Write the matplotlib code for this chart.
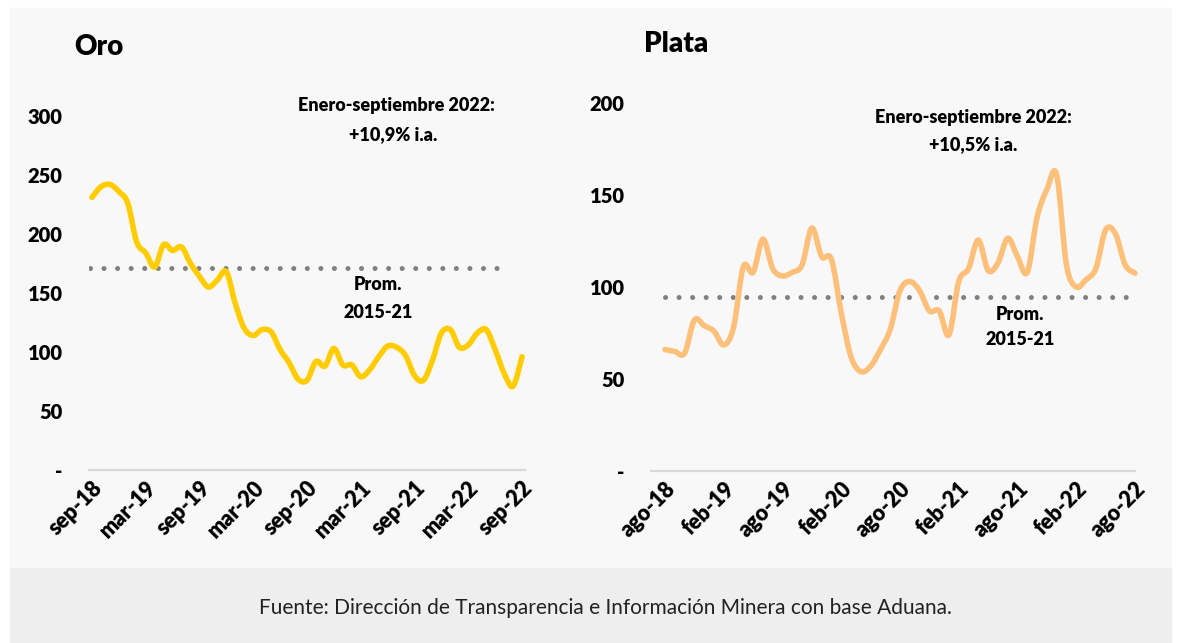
import numpy as np
import matplotlib
matplotlib.use("Agg")
import matplotlib.pyplot as plt
from matplotlib.patches import Rectangle, PathPatch
from matplotlib.path import Path
from matplotlib.transforms import ScaledTranslation

plt.rcParams["font.family"] = ["Lato", "DejaVu Sans"]

# Oro: monthly index, sep-18 .. sep-22
oro_values = [231, 240, 242, 236, 226, 193, 184, 172, 191, 186,
              189, 175, 164, 155, 161, 168, 141, 120, 114, 119,
              117, 102, 91, 77, 76, 92, 88, 103, 89, 89,
              79, 85, 96, 105, 104, 97, 80, 76, 93, 116,
              119, 104, 106, 116, 119, 102, 82, 71, 96]
oro_ticks = ["sep-18", "mar-19", "sep-19", "mar-20", "sep-20",
             "mar-21", "sep-21", "mar-22", "sep-22"]
oro_avg = 171

# Plata: monthly index, ago-18 .. ago-22
plata_values = [66, 65, 64, 82, 79, 76, 68.5, 78, 111, 108,
                126, 110, 106, 108, 112, 132, 116.5, 115, 86, 62,
                54, 57, 66, 77, 98, 103, 98, 87, 87, 74,
                103, 110, 125.5, 109, 113, 126.5, 116.5, 108, 138, 153,
                161, 112, 100, 104, 110, 131, 129, 112, 107.5]
plata_ticks = ["ago-18", "feb-19", "ago-19", "feb-20", "ago-20",
               "feb-21", "ago-21", "feb-22", "ago-22"]
plata_avg = 94.6

W, H = 1181, 643
fig = plt.figure(figsize=(W / 100, H / 100), dpi=100)
fig.patch.set_facecolor("white")
fig.patches.append(Rectangle((10 / W, (H - 568) / H), 1161 / W, 560 / H,
                             transform=fig.transFigure, color="#f8f8f8", zorder=-10))
fig.patches.append(Rectangle((10 / W, 0), 1161 / W, (H - 568) / H,
                             transform=fig.transFigure, color="#eeeeee", zorder=-10))


def smooth_path(x, y):
    # smoothed line like a spreadsheet chart: cubic Bezier segments through the points
    x = np.asarray(x, float)
    y = np.asarray(y, float)
    verts = [(x[0], y[0])]
    codes = [Path.MOVETO]
    n = len(x)
    for i in range(n - 1):
        x0, y0 = (x[i - 1], y[i - 1]) if i > 0 else (x[i], y[i])
        x3, y3 = (x[i + 2], y[i + 2]) if i + 2 < n else (x[i + 1], y[i + 1])
        c1 = (x[i] + (x[i + 1] - x0) / 6, y[i] + (y[i + 1] - y0) / 6)
        c2 = (x[i + 1] - (x3 - x[i]) / 6, y[i + 1] - (y3 - y[i]) / 6)
        verts += [c1, c2, (x[i + 1], y[i + 1])]
        codes += [Path.CURVE4] * 3
    return Path(verts, codes)


def make_panel(rect, values, ticks, avg, ymax, ystep, color, xlim, dot_span):
    ax = fig.add_axes(rect)
    ax.set_facecolor("none")
    x = np.arange(len(values))
    ax.add_patch(PathPatch(smooth_path(x, values), facecolor="none", edgecolor=color,
                           lw=4.0, joinstyle="round", capstyle="round",
                           clip_on=False, zorder=3))
    ax.plot(dot_span, [avg, avg], color="#808080", lw=3.6,
            linestyle=(0, (0.01, 2.7)), dash_capstyle="round", zorder=2)
    ax.set_xlim(*xlim)
    ax.set_ylim(0, ymax)
    yt = np.arange(0, ymax + 1, ystep)
    ax.set_yticks(yt)
    ax.set_yticklabels(["-"] + [str(v) for v in yt[1:]], fontsize=14.5, fontweight="heavy")
    ax.set_xticks(np.arange(0, len(values), 6))
    ax.set_xticklabels(ticks, rotation=45, ha="right", rotation_mode="anchor",
                       fontsize=15.5, fontweight="heavy")
    shift = ScaledTranslation(-6 / 100, -2 / 100, fig.dpi_scale_trans)
    for lab in ax.get_xticklabels():
        lab.set_transform(lab.get_transform() + shift)
    ax.tick_params(axis="y", length=0, pad=19)
    ax.tick_params(axis="x", length=0, pad=5)
    for s in ["top", "right", "left"]:
        ax.spines[s].set_visible(False)
    ax.spines["bottom"].set_color("#d9d9d9")
    ax.spines["bottom"].set_linewidth(1.6)
    return ax


ax1 = make_panel([89 / W, (H - 470) / H, 436 / W, 354 / H], oro_values, oro_ticks,
                 oro_avg, 300, 50, "#ffcc00", (-0.33, 48.33), [-0.2, 46.6])
ax2 = make_panel([651 / W, (H - 471) / H, 484 / W, 368 / H], plata_values, plata_ticks,
                 plata_avg, 200, 50, "#fdc07a", (-1.43, 48.0), [0, 48])

fig.text(74 / W, 1 - 47 / H, "Oro", fontsize=20, fontweight="heavy", va="center")
fig.text(644 / W, 1 - 44 / H, "Plata", fontsize=20, fontweight="heavy", va="center")

bold = dict(fontsize=13, fontweight="heavy", ha="center", va="center")
fig.text(396 / W, 1 - 105 / H, "Enero-septiembre 2022:", **bold)
fig.text(393 / W, 1 - 135 / H, "+10,9% i.a.", **bold)
fig.text(378 / W, 1 - 285 / H, "Prom.", **bold)
fig.text(378 / W, 1 - 312 / H, "2015-21", **bold)
fig.text(973 / W, 1 - 117 / H, "Enero-septiembre 2022:", **bold)
fig.text(973 / W, 1 - 145 / H, "+10,5% i.a.", **bold)
fig.text(1020 / W, 1 - 314 / H, "Prom.", **bold)
fig.text(1020 / W, 1 - 340 / H, "2015-21", **bold)

fig.text(605 / W, 1 - 608 / H, "Fuente: Dirección de Transparencia e Información Minera con base Aduana.",
         fontsize=15, ha="center", va="center", color="#222222")

fig.savefig("out.png", dpi=100, facecolor=fig.get_facecolor())
